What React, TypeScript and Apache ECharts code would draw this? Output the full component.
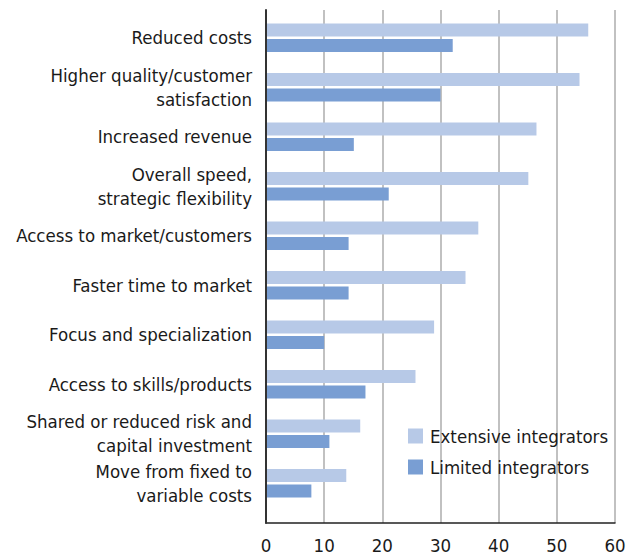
import React, { useEffect, useRef } from "react";
import * as echarts from "echarts";

const categories = [
  "Reduced costs",
  "Higher quality/customer\nsatisfaction",
  "Increased revenue",
  "Overall speed,\nstrategic flexibility",
  "Access to market/customers",
  "Faster time to market",
  "Focus and specialization",
  "Access to skills/products",
  "Shared or reduced risk and\ncapital investment",
  "Move from fixed to\nvariable costs",
];
const extensive = [55.4, 53.9, 46.5, 45.1, 36.5, 34.3, 28.9, 25.7, 16.2, 13.8];
const limited = [32.1, 30.0, 15.1, 21.1, 14.2, 14.2, 10.0, 17.1, 10.9, 7.8];
const seriesNames = ["Extensive integrators", "Limited integrators"];
const colors = ["#b7c9e7", "#799ed3"];

const FONT = "'DejaVu Sans Condensed', 'Liberation Sans Narrow', sans-serif";
const FS = 18.5;

export default function App() {
  const ref = useRef<HTMLDivElement>(null);
  useEffect(() => {
    const chart = echarts.init(ref.current!, undefined, { renderer: "svg" });
    chart.setOption({
      animation: false,
      backgroundColor: "#ffffff",
      legend: {
        left: 403,
        top: 421,
        orient: "vertical",
        itemWidth: 15,
        itemHeight: 15,
        itemGap: 11,
        icon: "rect",
        textStyle: { fontFamily: FONT, fontSize: FS, lineHeight: 20, color: "#1a1a1a", padding: [0, 0, 0, 2] },
        data: seriesNames,
      },
      grid: [
        { left: 266, right: 24, top: 13, bottom: 48, outerBoundsMode: "none", containLabel: false },
        { left: 266, right: 24, top: 10, bottom: 33, outerBoundsMode: "none", containLabel: false },
      ],
      xAxis: [
        {
          gridIndex: 0,
          type: "value",
          min: 0,
          max: 60,
          interval: 10,
          show: false,
        },
        {
          gridIndex: 1,
          type: "value",
          min: 0,
          max: 60,
          interval: 10,
          z: 0,
          axisLine: { show: true, lineStyle: { color: "#222", width: 1.5 } },
          axisTick: { show: false },
          splitLine: { show: true, lineStyle: { color: "#adadad", width: 1.5 } },
          axisLabel: { fontFamily: FONT, fontSize: FS, color: "#1a1a1a", margin: 13 },
        },
      ],
      yAxis: [
        {
          gridIndex: 0,
          type: "category",
          inverse: true,
          data: categories,
          axisLine: { show: false },
          axisTick: { show: false },
          axisLabel: {
            interval: 0,
            fontFamily: FONT,
            fontSize: FS,
            color: "#1a1a1a",
            margin: 14,
            lineHeight: 24,
            align: "right",
          },
        },
        {
          gridIndex: 1,
          type: "value",
          min: 0,
          max: 1,
          z: 5,
          axisLine: { show: true, lineStyle: { color: "#333", width: 2 } },
          axisTick: { show: false },
          axisLabel: { show: false },
          splitLine: { show: false },
        },
      ],
      series: [
        {
          name: seriesNames[0],
          type: "bar",
          xAxisIndex: 0,
          yAxisIndex: 0,
          data: extensive,
          barWidth: 13,
          barGap: "18%",
          itemStyle: { color: colors[0] },
        },
        {
          name: seriesNames[1],
          type: "bar",
          xAxisIndex: 0,
          yAxisIndex: 0,
          data: limited,
          barWidth: 13,
          barGap: "18%",
          itemStyle: { color: colors[1] },
        },
      ],
    });
    return () => chart.dispose();
  }, []);
  return (
    <div
      ref={ref}
      style={{ position: "absolute", left: 0, top: 0, width: 639, height: 556 }}
    />
  );
}
